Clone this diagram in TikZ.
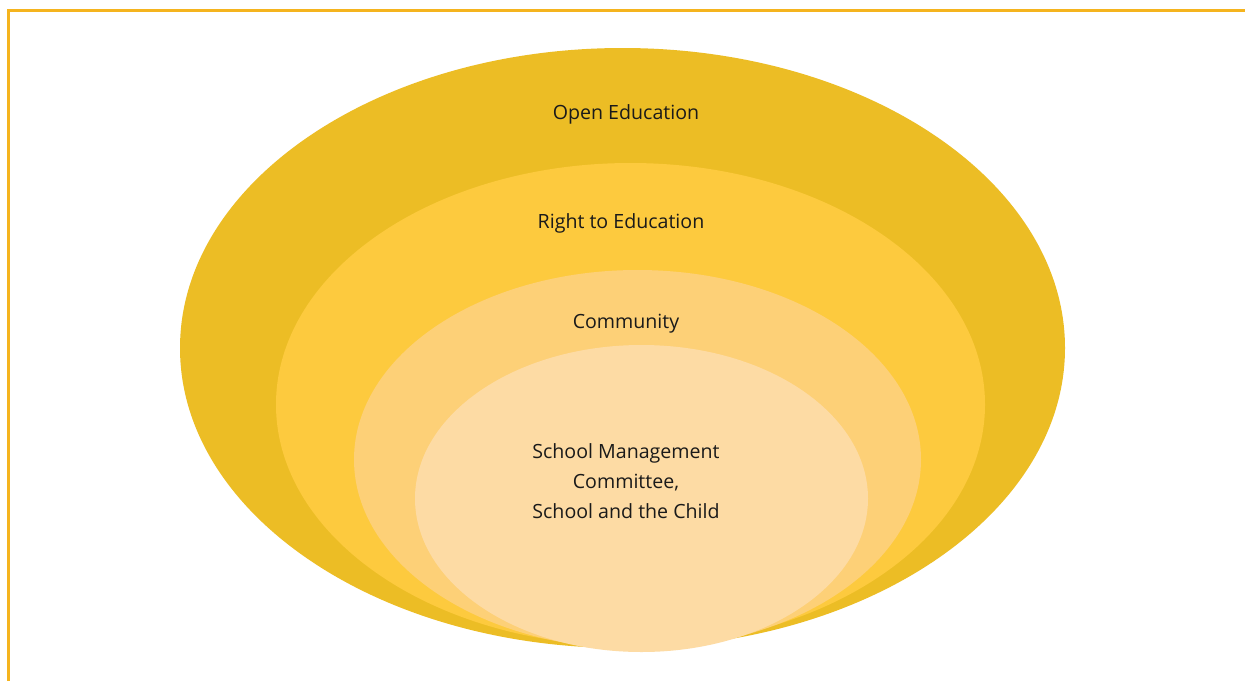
\documentclass[tikz,border=0pt]{standalone}
\usepackage{fontspec}
\setmainfont{Open Sans}
\definecolor{frame}{HTML}{F5B41E}
\definecolor{c1}{HTML}{ECBD25}
\definecolor{c2}{HTML}{FDCA3E}
\definecolor{c3}{HTML}{FDD077}
\definecolor{c4}{HTML}{FDDBA4}
\definecolor{txt}{HTML}{1A1A1A}
\tikzset{
  ring/.style={ellipse, draw=none, inner sep=0pt},
  lbl/.style={font=\fontsize{19.6}{30}\selectfont, text=txt, align=center, inner sep=0pt}
}
\usetikzlibrary{shapes.geometric}
\begin{document}
\begin{tikzpicture}[x=1pt,y=-1pt]
\useasboundingbox (0,0) rectangle (1245,681);
\fill[white] (0,0) rectangle (1245,681);
\coordinate (tl) at (8.3,10.3);
\coordinate (tr) at (1245,10.3);
\coordinate (bl) at (8.3,681);
\draw[frame, line width=2.6pt] (tr) -- (tl) -- (bl);
\fill[c1] (622.5,348) ellipse [x radius=442.5, y radius=300];
\fill[c2] (630.5,404.5) ellipse [x radius=354.5, y radius=241.5];
\fill[c3] (637.5,459.5) ellipse [x radius=283.5, y radius=189.5];
\fill[c4] (641.5,498.5) ellipse [x radius=226.5, y radius=153.5];
\node[lbl] (open) at (626,114) {Open Education};
\node[lbl] (rte) at (621,223) {Right to Education};
\node[lbl] (com) at (626,324) {Community};
\node[lbl] (smc) at (626,481) {School Management\\Committee,\\School and the Child};
\end{tikzpicture}
\end{document}
